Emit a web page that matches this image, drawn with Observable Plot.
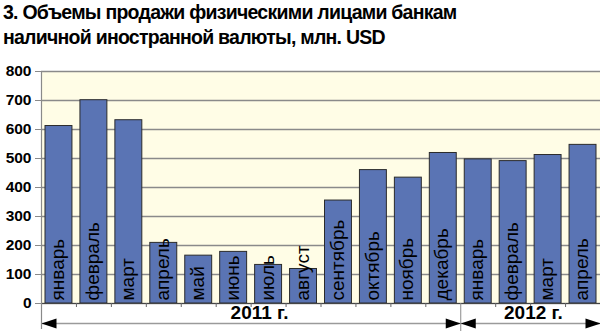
<!DOCTYPE html>
<html>
<head>
<meta charset="utf-8">
<script src="https://cdn.jsdelivr.net/npm/d3@7"></script>
<script src="https://cdn.jsdelivr.net/npm/@observablehq/plot@0.6"></script>
<style>
  html, body { margin: 0; padding: 0; background: #fff; }
  #title { font: bold 19.5px "Liberation Sans", Arial, sans-serif; letter-spacing: -0.75px; line-height: 25px; color: #000; height: 56px; padding-left: 3px; box-sizing: border-box; padding-top: 0px; }
  svg { display: block; }
</style>
</head>
<body>
<div id="title">3. Объемы продажи физическими лицами банкам<br>наличной иностранной валюты, млн. USD</div>
<div id="chart"></div>
<script>
const months = ["январь","февраль","март","апрель","май","июнь","июль","август","сентябрь","октябрь","ноябрь","декабрь","январь","февраль","март","апрель"];
const values = [612, 701, 632, 209, 165, 178, 133, 119, 355, 460, 434, 519, 497, 491, 512, 547];
const years = ["2011 г.", "2012 г."];
const yearMonthCounts = [12, 4];
const yTicks = [0, 100, 200, 300, 400, 500, 600, 700, 800];

const data = months.map((m, i) => ({i, month: m, value: values[i]}));
let acc = 0;
const spans = years.map((y, k) => { const s = acc; acc += yearMonthCounts[k]; return {year: y, start: s, end: acc}; });
const boundaries = d3.range(1, months.length).filter(b => !spans.some(s => s.start === b));
const dividers = spans.slice(1).map(s => s.start);

// custom arrowhead symbols with the tip at the origin
const headLeft = {draw(ctx) { ctx.moveTo(0, 0); ctx.lineTo(15, -5); ctx.lineTo(15, 5); ctx.closePath(); }};
const headRight = {draw(ctx) { ctx.moveTo(0, 0); ctx.lineTo(-15, -5); ctx.lineTo(-15, 5); ctx.closePath(); }};

const chart = Plot.plot({
  width: 600,
  height: 275,
  marginTop: 15,
  marginBottom: 28,
  marginLeft: 41,
  marginRight: 0,
  x: {domain: [0, months.length]},
  y: {domain: [0, 800]},
  style: {fontFamily: "'Liberation Sans', Arial, sans-serif", color: "#000", background: "transparent"},
  marks: [
    Plot.frame({fill: "#FFFDE6", stroke: null}),
    Plot.gridY(yTicks, {stroke: "#8a8a8a", strokeOpacity: 1, strokeWidth: 1.5}),
    Plot.rect(data, {x1: "i", x2: d => d.i + 1, y1: 0, y2: "value", insetLeft: 4, insetRight: 4, fill: "#5A74B4", stroke: "#2b2b2b", strokeWidth: 1}),
    Plot.ruleY([0], {stroke: "#444", strokeWidth: 1}),
    Plot.text(data, {x: d => d.i + 0.5, y: 0, text: "month", rotate: -90, textAnchor: "start", lineAnchor: "middle", dy: -3, dx: -1, fontSize: 19, fill: "#000"}),
    Plot.ruleX([0], {stroke: "#8a8a8a", strokeWidth: 1.2, insetBottom: -26}),
    Plot.axisX({ticks: boundaries, tickSize: 4, tickFormat: () => "", stroke: "#666"}),
    Plot.axisX({ticks: dividers, tickSize: 28, tickFormat: () => "", stroke: "#8a8a8a"}),
    Plot.ruleY(spans, {y: () => 0, x1: "start", x2: "end", dy: 20, stroke: "#9a9a9a", strokeWidth: 1.5}),
    Plot.dot(spans, {x: "start", y: () => 0, dy: 20, symbol: headLeft, r: 5, fill: "#000", stroke: null}),
    Plot.dot(spans, {x: "end", y: () => 0, dy: 20, symbol: headRight, r: 5, fill: "#000", stroke: null}),
    Plot.text(spans, {x: d => (d.start + d.end) / 2 + (d.end - d.start) * 0.02, y: () => 0, text: "year", dy: 9, lineAnchor: "middle", fontSize: 19, fontWeight: "bold", fill: "#000"}),
    Plot.axisY({ticks: yTicks, tickSize: 6, tickPadding: 4, fontSize: 15.5, fontWeight: "bold", stroke: "#8a8a8a", label: null})
  ]
});
document.getElementById("chart").append(chart);
</script>
</body>
</html>
